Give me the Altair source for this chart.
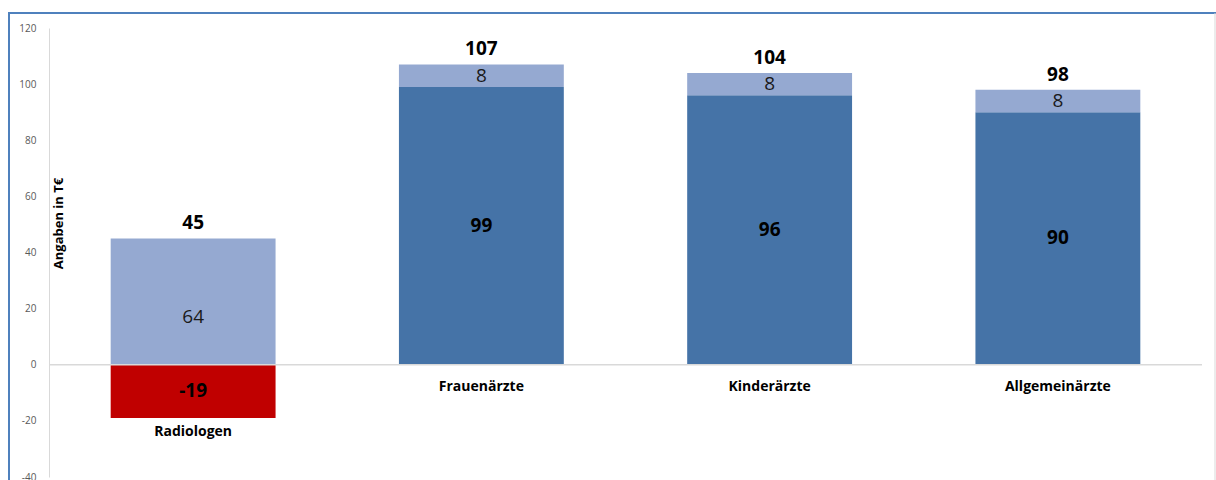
import altair as alt
import pandas as pd

# ---- data ----
categories = ["Radiologen", "Frauenärzte", "Kinderärzte", "Allgemeinärzte"]
totals = [45, 107, 104, 98]

# stacked segments: (category, segment, start, end, label, label_at)
seg_category = ["Radiologen", "Radiologen", "Frauenärzte", "Frauenärzte",
                "Kinderärzte", "Kinderärzte", "Allgemeinärzte", "Allgemeinärzte"]
seg_type = ["neg", "light", "dark", "light", "dark", "light", "dark", "light"]
seg_start = [0, 0, 0, 99, 0, 96, 0, 90]
seg_end = [-19, 45, 99, 107, 96, 104, 90, 98]
seg_label = ["-19", "64", "99", "8", "96", "8", "90", "8"]
seg_label_at = [-9.5, 17, 49.5, 103, 48, 100, 45, 94]
seg_bold = [True, False, True, False, True, False, True, False]
cat_label_at = [-24, -8, -8, -8]

segs = pd.DataFrame({
    "cat": seg_category, "seg": seg_type, "start": seg_start, "end": seg_end,
    "label": seg_label, "at": seg_label_at, "bold": seg_bold,
})
tot = pd.DataFrame({"cat": categories, "total": totals, "catat": cat_label_at})

FONT = "Open Sans"
x = alt.X("cat:N", sort=categories, axis=None,
          scale=alt.Scale(paddingInner=0.428, paddingOuter=0.214))
yscale = alt.Scale(domain=[-40, 120], nice=False, zero=False)

bars = alt.Chart(segs).mark_bar().encode(
    x=x,
    y=alt.Y("start:Q", scale=yscale,
            axis=alt.Axis(values=[-40, -20, 0, 20, 40, 60, 80, 100, 120],
                          labelExpr="toString(datum.value)",
                          grid=False, ticks=False, labelPadding=13,
                          labelColor="#595959", labelFont=FONT, labelFontSize=10,
                          domainColor="#d9d9d9", domainWidth=1,
                          title="Angaben in T€", titleFont=FONT, titleFontSize=13,
                          titleFontWeight="bold", titleColor="#000000",
                          titleX=9, titleY=195, titleAngle=270,
                          titleAlign="center", titleBaseline="middle")),
    y2="end:Q",
    color=alt.Color("seg:N", legend=None,
                    scale=alt.Scale(domain=["neg", "light", "dark"],
                                    range=["#c00000", "#95a9d1", "#4573a7"])),
)

zero = alt.Chart(pd.DataFrame({"z": [0]})).mark_rule(color="#d9d9d9", strokeWidth=1.5).encode(
    y=alt.Y("z:Q", scale=yscale)
)

seg_text_bold = alt.Chart(segs).transform_filter("datum.bold").mark_text(
    font=FONT, fontSize=19, fontWeight="bold", color="#000000", baseline="middle"
).encode(x=x, y=alt.Y("at:Q", scale=yscale), text="label:N")

seg_text_reg = alt.Chart(segs).transform_filter("!datum.bold").mark_text(
    font=FONT, fontSize=19, color="#1a1a1a", baseline="middle"
).encode(x=x, y=alt.Y("at:Q", scale=yscale), text="label:N")

tot_text = alt.Chart(tot).mark_text(
    font=FONT, fontSize=19, fontWeight="bold", color="#000000",
    baseline="middle", dy=-15
).encode(x=x, y=alt.Y("total:Q", scale=yscale), text="total:Q")

cat_text = alt.Chart(tot).mark_text(
    font=FONT, fontSize=14, fontWeight="bold", color="#000000", baseline="middle"
).encode(x=x, y=alt.Y("catat:Q", scale=yscale), text="cat:N")

border = alt.Chart(pd.DataFrame({"b": [0]})).mark_rect(
    fill=None, stroke="#4f81bd", strokeWidth=2
).encode(x=alt.value(-40), x2=alt.value(1200), y=alt.value(-15), y2=alt.value(500))

right_edge = alt.Chart(pd.DataFrame({"b": [0]})).mark_rule(
    color="#d9d9d9", strokeWidth=1
).encode(x=alt.value(1166), y=alt.value(-15), y2=alt.value(500))

chart = alt.layer(border, right_edge, bars, zero, seg_text_bold, seg_text_reg,
                  tot_text, cat_text).properties(
    width=1153, height=449,
    autosize=alt.AutoSizeParams(type="none"),
    padding={"left": 49, "top": 28, "right": 14, "bottom": 3},
    background="white",
).configure_view(stroke=None)

chart.save("out.html", embed_options={"renderer": "svg", "actions": False})
